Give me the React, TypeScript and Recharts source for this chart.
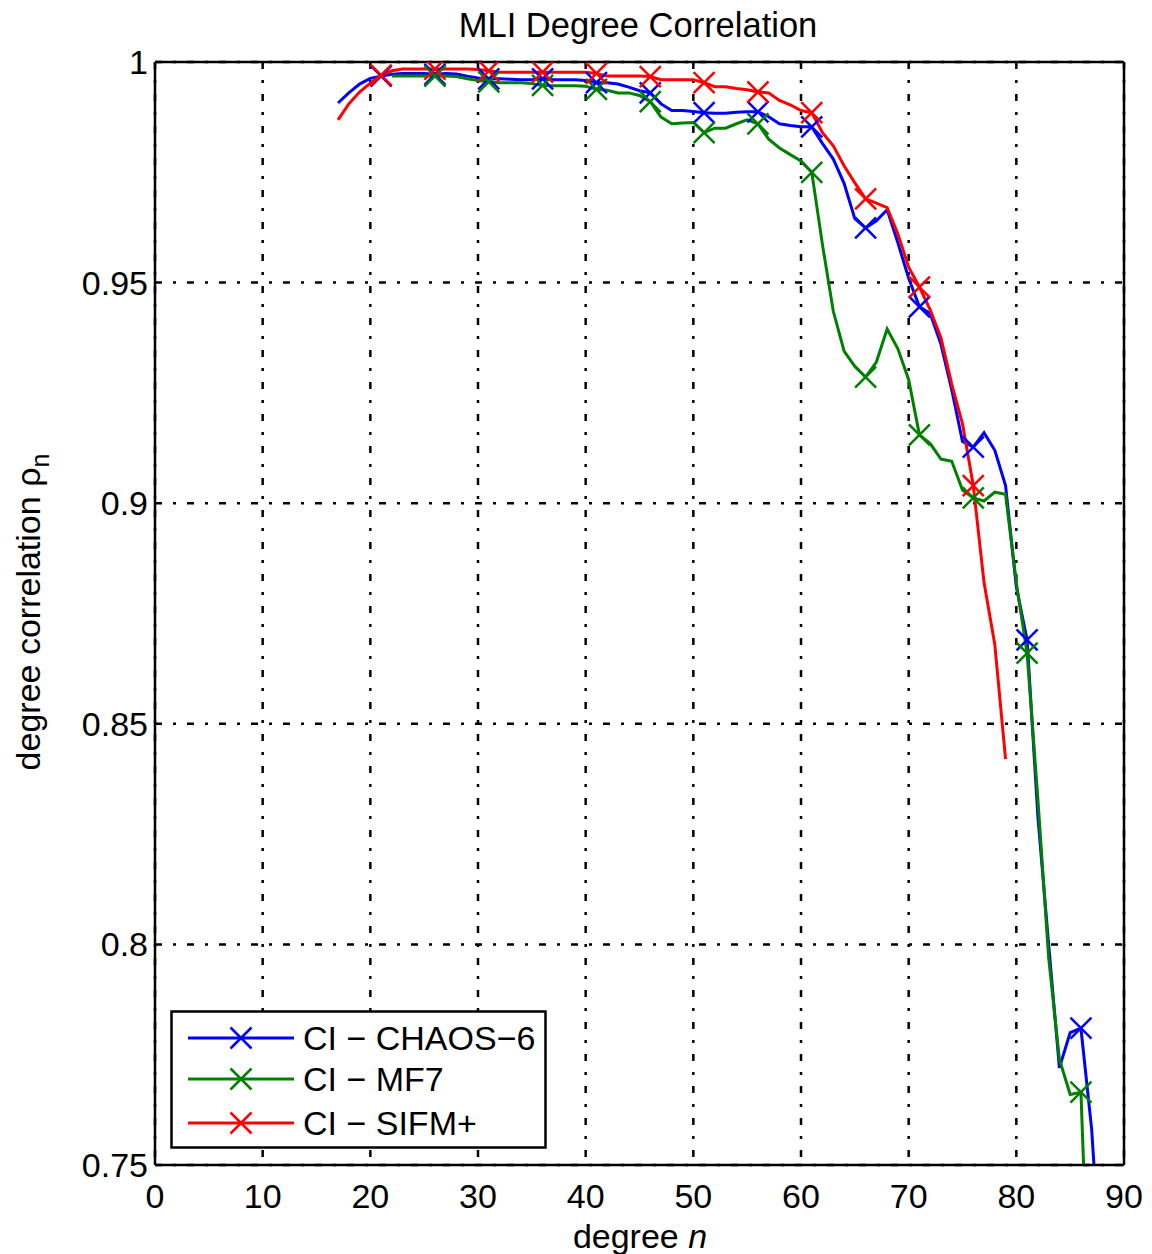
import React from "react";
import { CartesianGrid, Label, Legend, Line, LineChart, XAxis, YAxis } from "recharts";

// spherical harmonic degree n
const degrees = [
  17, 18, 19, 20, 21, 22, 23, 24, 25, 26, 27, 28, 29, 30, 31, 32, 33, 34, 35, 36,
  37, 38, 39, 40, 41, 42, 43, 44, 45, 46, 47, 48, 49, 50, 51, 52, 53, 54, 55, 56,
  57, 58, 59, 60, 61, 62, 63, 64, 65, 66, 67, 68, 69, 70, 71, 72, 73, 74, 75, 76,
  77, 78, 79, 80, 81, 82, 83, 84, 85, 86, 87, 88,
];

const chaos6 = [
  0.9907, 0.993, 0.995, 0.9963, 0.9968, 0.9972, 0.9974, 0.9974, 0.9974, 0.9972,
  0.9974, 0.9973, 0.9968, 0.9964, 0.9962, 0.9962, 0.9961, 0.996, 0.996, 0.9962,
  0.996, 0.996, 0.996, 0.9958, 0.9953, 0.9953, 0.995, 0.9943, 0.9935, 0.993,
  0.9905, 0.989, 0.989, 0.9888, 0.9885, 0.9884, 0.9884, 0.9886, 0.9887, 0.9887,
  0.9876, 0.986, 0.9856, 0.9853, 0.9853, 0.9815, 0.978, 0.9725, 0.9645, 0.9624,
  0.964, 0.9665, 0.959, 0.951, 0.9445, 0.943, 0.936, 0.9257, 0.914, 0.9127,
  0.916, 0.912, 0.904, 0.881, 0.869, 0.829, 0.8, 0.772, 0.78, 0.781,
  0.758, 0.72,
];

const mf7 = [
  null, null, null, null, null, 0.9968, 0.9968, 0.9968, 0.9968, 0.9968,
  0.9968, 0.9967, 0.9962, 0.9958, 0.9955, 0.9953, 0.9953, 0.9953, 0.9951, 0.9947,
  0.9946, 0.9946, 0.9946, 0.9945, 0.9938, 0.9936, 0.993, 0.993, 0.9924, 0.991,
  0.9875, 0.986, 0.9862, 0.9863, 0.984, 0.985, 0.985, 0.986, 0.9869, 0.986,
  0.9825, 0.9805, 0.979, 0.9776, 0.975, 0.9585, 0.9435, 0.9345, 0.931, 0.9286,
  0.932, 0.9395, 0.935, 0.928, 0.9155, 0.9135, 0.91, 0.9095, 0.903, 0.9012,
  0.9005, 0.9025, 0.902, 0.882, 0.866, 0.833, 0.797, 0.774, 0.766, 0.7665,
  0.7, null,
];

const sifm = [
  0.9869, 0.9905, 0.9932, 0.9952, 0.997, 0.998, 0.9984, 0.9984, 0.9984, 0.9984,
  0.9984, 0.9984, 0.9984, 0.9983, 0.998, 0.9977, 0.9977, 0.9977, 0.9977, 0.9977,
  0.9977, 0.9977, 0.9977, 0.9977, 0.9974, 0.9968, 0.9968, 0.9968, 0.9968, 0.9967,
  0.996, 0.996, 0.996, 0.996, 0.9953, 0.9944, 0.9944, 0.994, 0.9937, 0.9932,
  0.993, 0.9913, 0.9903, 0.989, 0.9885, 0.984, 0.981, 0.9765, 0.9726, 0.969,
  0.968, 0.967, 0.961, 0.9535, 0.949, 0.9438, 0.9375, 0.927, 0.918, 0.904,
  0.882, 0.868, 0.842, null, null, null, null, null, null, null,
  null, null,
];

const xTicks = [0, 10, 20, 30, 40, 50, 60, 70, 80, 90];
const yTicks = [0.75, 0.8, 0.85, 0.9, 0.95, 1];

const series = [
  { key: "chaos6", name: "CI \u2212 CHAOS\u22126", color: "#0000ff" },
  { key: "mf7", name: "CI \u2212 MF7", color: "#008000" },
  { key: "sifm", name: "CI \u2212 SIFM+", color: "#ff0000" },
];

const data = degrees.map((n, i) => ({
  n,
  chaos6: chaos6[i],
  mf7: mf7[i],
  sifm: sifm[i],
}));

const FONT = '"Liberation Sans", Arial, Helvetica, sans-serif';
const BLACK = "#000";

const crossPath = (cx: number, cy: number, s: number) =>
  `M${cx - s},${cy - s}L${cx + s},${cy + s}M${cx - s},${cy + s}L${cx + s},${cy - s}`;

// matlab style 'x' marker, every fifth degree
const CrossDot = (props: any) => {
  const { cx, cy, payload, value, stroke, index } = props;
  if (value == null || cx == null || cy == null || payload.n % 5 !== 1) {
    return <g key={`d-${index}`} />;
  }
  return (
    <path
      key={`d-${index}`}
      d={crossPath(cx, cy, 10.5)}
      stroke={stroke}
      strokeWidth={2.5}
      fill="none"
    />
  );
};

const LegendBox = () => {
  const rowY = [28, 69, 113];
  return (
    <svg width={378} height={140} style={{ display: "block" }}>
      <rect x={1.5} y={1.5} width={374} height={136} fill="#fff" stroke={BLACK} strokeWidth={2.5} />
      {series.map((s, i) => (
        <g key={s.key}>
          <line x1={18} x2={124} y1={rowY[i]} y2={rowY[i]} stroke={s.color} strokeWidth={3} />
          <path d={crossPath(71, rowY[i], 10.5)} stroke={s.color} strokeWidth={2.5} fill="none" />
          <text x={133} y={rowY[i] + 12} fontSize={34} fontFamily={FONT} fill={BLACK}>
            {s.name}
          </text>
        </g>
      ))}
    </svg>
  );
};

const TitleLabel = () => (
  <text x={638} y={37} textAnchor="middle" fontSize={34.5} fontFamily={FONT} fill={BLACK}>
    MLI Degree Correlation
  </text>
);

const XLabel = () => (
  <text x={640} y={1248} textAnchor="middle" fontSize={34} fontFamily={FONT} fill={BLACK}>
    degree <tspan fontStyle="italic">n</tspan>
  </text>
);

const YLabel = () => (
  <text
    x={40}
    y={612}
    transform="rotate(-90 40 612)"
    textAnchor="middle"
    fontSize={34}
    fontFamily={FONT}
    fill={BLACK}
  >
    degree correlation ρ
    <tspan fontSize={25} dy={9}>
      n
    </tspan>
  </text>
);

const tickStyle = { fill: BLACK, fontSize: 34, fontFamily: FONT };

export default function App() {
  return (
    <div style={{ position: "absolute", left: 0, top: 0, width: 1152, height: 1254, background: "#fff" }}>
      <LineChart
        width={1152}
        height={1254}
        data={data}
        margin={{ top: 62, right: 28, bottom: 29, left: 75 }}
        style={{ fontFamily: FONT }}
      >
        <CartesianGrid
          stroke={BLACK}
          strokeWidth={2.5}
          strokeDasharray="7 11 3 11"
          verticalValues={xTicks}
          horizontalValues={yTicks}
        />
        <XAxis
          dataKey="n"
          type="number"
          domain={[0, 90]}
          ticks={xTicks}
          allowDataOverflow
          height={60}
          tickLine={false}
          tickSize={0}
          tickMargin={19}
          tick={tickStyle}
          axisLine={{ stroke: BLACK, strokeWidth: 2.5 }}
        >
          <Label content={<XLabel />} />
        </XAxis>
        <XAxis
          xAxisId="top"
          dataKey="n"
          type="number"
          orientation="top"
          mirror
          domain={[0, 90]}
          ticks={xTicks}
          allowDataOverflow
          tick={false}
          tickSize={12}
          tickLine={{ stroke: BLACK, strokeWidth: 2.5 }}
          axisLine={{ stroke: BLACK, strokeWidth: 2.5 }}
        >
          <Label content={<TitleLabel />} />
        </XAxis>
        <XAxis
          xAxisId="bottomTicks"
          dataKey="n"
          type="number"
          orientation="bottom"
          mirror
          domain={[0, 90]}
          ticks={xTicks}
          allowDataOverflow
          tick={false}
          tickSize={12}
          tickLine={{ stroke: BLACK, strokeWidth: 2.5 }}
          axisLine={false}
        />
        <YAxis
          domain={[0.75, 1]}
          ticks={yTicks}
          allowDataOverflow
          width={80}
          tickLine={false}
          tickSize={0}
          tickMargin={7}
          tick={tickStyle}
          axisLine={{ stroke: BLACK, strokeWidth: 2.5 }}
        >
          <Label content={<YLabel />} />
        </YAxis>
        <YAxis
          yAxisId="leftTicks"
          orientation="left"
          mirror
          domain={[0.75, 1]}
          ticks={yTicks}
          allowDataOverflow
          tick={false}
          tickSize={12}
          tickLine={{ stroke: BLACK, strokeWidth: 2.5 }}
          axisLine={false}
        />
        <YAxis
          yAxisId="right"
          orientation="right"
          mirror
          domain={[0.75, 1]}
          ticks={yTicks}
          allowDataOverflow
          tick={false}
          tickSize={12}
          tickLine={{ stroke: BLACK, strokeWidth: 2.5 }}
          axisLine={{ stroke: BLACK, strokeWidth: 2.5 }}
        />
        <Legend
          layout="vertical"
          align="center"
          verticalAlign="middle"
          content={<LegendBox />}
          wrapperStyle={{ left: 170, top: 1010, width: 378, height: 140 }}
        />
        {series.map((s) => (
          <Line
            key={s.key}
            type="linear"
            dataKey={s.key}
            name={s.name}
            stroke={s.color}
            strokeWidth={3}
            dot={(p: any) => <CrossDot {...p} key={`${s.key}-${p.index}`} />}
            activeDot={false}
            connectNulls={false}
            isAnimationActive={false}
          />
        ))}
      </LineChart>
    </div>
  );
}
